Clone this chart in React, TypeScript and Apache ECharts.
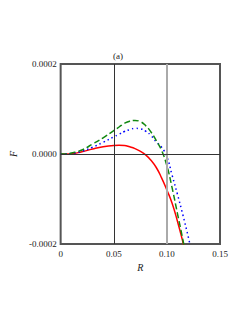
import React, { useEffect, useRef } from "react";
import * as echarts from "echarts";

const R_VALUES = [0, 0.005, 0.01, 0.02, 0.03, 0.04, 0.05, 0.055, 0.06, 0.065, 0.07, 0.075, 0.08, 0.085, 0.09, 0.095, 0.1, 0.105, 0.11, 0.115, 0.12, 0.125];
// F values in units of 1e-5
const RED_F = [0, 0, 0.05, 0.5, 1.1, 1.6, 1.9, 1.95, 1.9, 1.6, 1.2, 0.6, -0.2, -1.4, -3.0, -5.3, -8.0, -11, -15, -19.5, -24.5, -30];
const GREEN_F = [0, 0.02, 0.2, 0.9, 2.2, 3.6, 5.2, 6.0, 6.8, 7.3, 7.45, 7.2, 6.3, 4.9, 3.0, 0.8, -2.6, -7.6, -13.3, -19.0, -25.5, -32];
const BLUE_F = [0, 0.01, 0.1, 0.6, 1.5, 2.6, 3.8, 4.4, 5.0, 5.4, 5.7, 5.6, 5.1, 4.1, 2.7, 1.5, -0.6, -4.8, -9.0, -13.5, -18.3, -23.5];
const X_TICKS = [0, 0.05, 0.1, 0.15];
const Y_TICKS = [-0.0002, 0, 0.0002];

const pairs = (f: number[]) => R_VALUES.map((r, i) => [r, f[i] * 1e-5]);

const FONT = "Liberation Serif";

export default function App() {
  const ref = useRef<HTMLDivElement>(null);
  useEffect(() => {
    if (!ref.current) return;
    const chart = echarts.init(ref.current, null, { renderer: "svg" });
    chart.setOption({
      animation: false,
      title: {
        text: "(a)",
        left: 118,
        top: 51,
        padding: 0,
        textAlign: "center",
        textStyle: { fontFamily: FONT, fontSize: 9, fontWeight: "normal", color: "#222" },
      },
      grid: {
        left: 58,
        right: 25,
        top: 64,
        bottom: 73,
        show: true,
        borderColor: "#555",
        borderWidth: 2,
        backgroundColor: "transparent",
      },
      xAxis: {
        type: "value",
        min: 0,
        max: 0.15,
        interval: 0.05,
        name: "R",
        nameLocation: "middle",
        nameGap: 17,
        nameTextStyle: { fontFamily: FONT, fontSize: 10, fontStyle: "italic", color: "#222" },
        axisLine: { show: false },
        axisTick: { show: false },
        splitLine: { show: false },
        axisLabel: {
          fontFamily: FONT,
          fontSize: 9,
          color: "#222",
          margin: 5,
          formatter: (v: number) => (X_TICKS.includes(v) ? (v === 0 ? "0" : v.toFixed(2)) : ""),
        },
      },
      yAxis: {
        type: "value",
        min: -0.0002,
        max: 0.0002,
        interval: 0.0002,
        name: "F",
        nameLocation: "middle",
        nameGap: 40,
        nameTextStyle: { fontFamily: FONT, fontSize: 10, fontStyle: "italic", color: "#222" },
        axisLine: { show: false },
        axisTick: { show: false },
        splitLine: { show: false },
        axisLabel: {
          fontFamily: FONT,
          fontSize: 9,
          color: "#222",
          margin: 4,
          formatter: (v: number) => (Y_TICKS.some((t) => Math.abs(t - v) < 1e-9) ? v.toFixed(4) : ""),
        },
      },
      series: [
        {
          type: "line",
          data: [],
          silent: true,
          markLine: {
            silent: true,
            symbol: "none",
            label: { show: false },
            data: [
              { xAxis: 0.05, lineStyle: { color: "#333", width: 1, type: "solid" } },
              { xAxis: 0.1, lineStyle: { color: "#aaa", width: 2, type: "solid" } },
              { yAxis: 0, lineStyle: { color: "#333", width: 1, type: "solid" } },
            ],
          },
        },
        {
          type: "line",
          data: pairs(RED_F),
          smooth: true,
          showSymbol: false,
          lineStyle: { color: "#ff0000", width: 1.5, type: "solid" },
        },
        {
          type: "line",
          data: pairs(BLUE_F),
          smooth: true,
          showSymbol: false,
          lineStyle: { color: "#0000ff", width: 1.5, type: [1.5, 3] },
        },
        {
          type: "line",
          data: pairs(GREEN_F),
          smooth: true,
          showSymbol: false,
          lineStyle: { color: "#118811", width: 1.5, type: [6, 3] },
        },
      ],
    });
    return () => chart.dispose();
  }, []);
  return <div ref={ref} style={{ width: 245, height: 317, margin: -8 }} />;
}
